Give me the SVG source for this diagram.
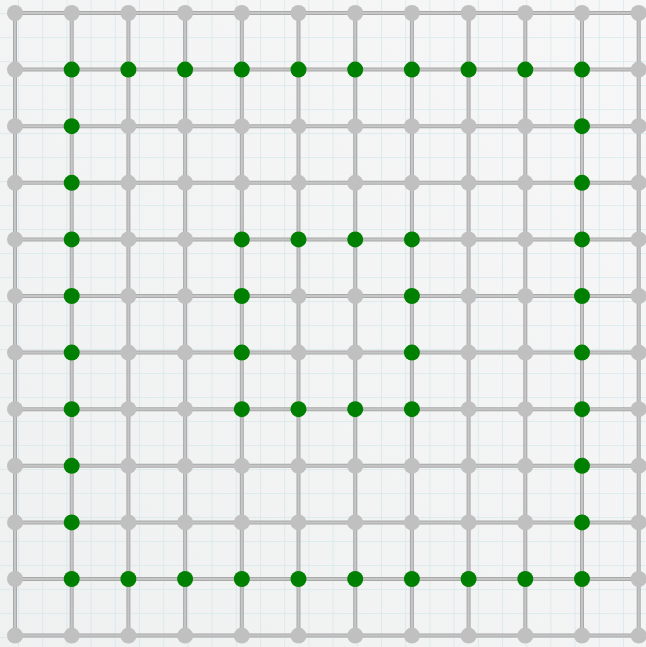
<svg xmlns="http://www.w3.org/2000/svg" width="646" height="647" viewBox="0 0 646 647">
<style>
.e{stroke:#a9a9a9;stroke-width:4;fill:none}
.ei{stroke:#c6c6c6;stroke-width:2;fill:none}
.g{fill:#c0c0c0}
.k{fill:#008000}
</style>
<defs>
<linearGradient id="bg" x1="0" y1="1" x2="1" y2="0">
<stop offset="0" stop-color="#eff0f0"/>
<stop offset="1" stop-color="#f7f7f7"/>
</linearGradient>
<pattern id="grid" x="18" y="13" width="24.2" height="24" patternUnits="userSpaceOnUse">
<path d="M0 0V24M0 0H24.2" stroke="#d2e6ed" stroke-width="1.6" fill="none"/>
</pattern>
</defs>
<rect width="646" height="647" fill="url(#bg)"/>
<rect width="646" height="647" fill="url(#grid)" opacity="0.85"/>
<g id="connectors">
<path class="e" d="M15 13H638.7M15 69.6H638.7M15 126.2H638.7M15 182.8H638.7M15 239.4H638.7M15 296H638.7M15 352.6H638.7M15 409.2H638.7M15 465.8H638.7M15 522.4H638.7M15 579H638.7M15 635.6H638.7M15 13V635.6M71.7 13V635.6M128.4 13V635.6M185.1 13V635.6M241.8 13V635.6M298.5 13V635.6M355.2 13V635.6M411.9 13V635.6M468.6 13V635.6M525.3 13V635.6M582 13V635.6M638.7 13V635.6"/>
<path class="ei" d="M15 13H638.7M15 69.6H638.7M15 126.2H638.7M15 182.8H638.7M15 239.4H638.7M15 296H638.7M15 352.6H638.7M15 409.2H638.7M15 465.8H638.7M15 522.4H638.7M15 579H638.7M15 635.6H638.7M15 13V635.6M71.7 13V635.6M128.4 13V635.6M185.1 13V635.6M241.8 13V635.6M298.5 13V635.6M355.2 13V635.6M411.9 13V635.6M468.6 13V635.6M525.3 13V635.6M582 13V635.6M638.7 13V635.6"/>
</g>
<g id="nodes">
<g id="n0_0"><circle class="g" cx="15" cy="13" r="8"/></g>
<g id="n0_1"><circle class="g" cx="71.7" cy="13" r="8"/></g>
<g id="n0_2"><circle class="g" cx="128.4" cy="13" r="8"/></g>
<g id="n0_3"><circle class="g" cx="185.1" cy="13" r="8"/></g>
<g id="n0_4"><circle class="g" cx="241.8" cy="13" r="8"/></g>
<g id="n0_5"><circle class="g" cx="298.5" cy="13" r="8"/></g>
<g id="n0_6"><circle class="g" cx="355.2" cy="13" r="8"/></g>
<g id="n0_7"><circle class="g" cx="411.9" cy="13" r="8"/></g>
<g id="n0_8"><circle class="g" cx="468.6" cy="13" r="8"/></g>
<g id="n0_9"><circle class="g" cx="525.3" cy="13" r="8"/></g>
<g id="n0_10"><circle class="g" cx="582" cy="13" r="8"/></g>
<g id="n0_11"><circle class="g" cx="638.7" cy="13" r="8"/></g>
<g id="n1_0"><circle class="g" cx="15" cy="69.6" r="8"/></g>
<g id="n1_1"><circle class="k" cx="71.7" cy="69.6" r="8"/></g>
<g id="n1_2"><circle class="k" cx="128.4" cy="69.6" r="8"/></g>
<g id="n1_3"><circle class="k" cx="185.1" cy="69.6" r="8"/></g>
<g id="n1_4"><circle class="k" cx="241.8" cy="69.6" r="8"/></g>
<g id="n1_5"><circle class="k" cx="298.5" cy="69.6" r="8"/></g>
<g id="n1_6"><circle class="k" cx="355.2" cy="69.6" r="8"/></g>
<g id="n1_7"><circle class="k" cx="411.9" cy="69.6" r="8"/></g>
<g id="n1_8"><circle class="k" cx="468.6" cy="69.6" r="8"/></g>
<g id="n1_9"><circle class="k" cx="525.3" cy="69.6" r="8"/></g>
<g id="n1_10"><circle class="k" cx="582" cy="69.6" r="8"/></g>
<g id="n1_11"><circle class="g" cx="638.7" cy="69.6" r="8"/></g>
<g id="n2_0"><circle class="g" cx="15" cy="126.2" r="8"/></g>
<g id="n2_1"><circle class="k" cx="71.7" cy="126.2" r="8"/></g>
<g id="n2_2"><circle class="g" cx="128.4" cy="126.2" r="8"/></g>
<g id="n2_3"><circle class="g" cx="185.1" cy="126.2" r="8"/></g>
<g id="n2_4"><circle class="g" cx="241.8" cy="126.2" r="8"/></g>
<g id="n2_5"><circle class="g" cx="298.5" cy="126.2" r="8"/></g>
<g id="n2_6"><circle class="g" cx="355.2" cy="126.2" r="8"/></g>
<g id="n2_7"><circle class="g" cx="411.9" cy="126.2" r="8"/></g>
<g id="n2_8"><circle class="g" cx="468.6" cy="126.2" r="8"/></g>
<g id="n2_9"><circle class="g" cx="525.3" cy="126.2" r="8"/></g>
<g id="n2_10"><circle class="k" cx="582" cy="126.2" r="8"/></g>
<g id="n2_11"><circle class="g" cx="638.7" cy="126.2" r="8"/></g>
<g id="n3_0"><circle class="g" cx="15" cy="182.8" r="8"/></g>
<g id="n3_1"><circle class="k" cx="71.7" cy="182.8" r="8"/></g>
<g id="n3_2"><circle class="g" cx="128.4" cy="182.8" r="8"/></g>
<g id="n3_3"><circle class="g" cx="185.1" cy="182.8" r="8"/></g>
<g id="n3_4"><circle class="g" cx="241.8" cy="182.8" r="8"/></g>
<g id="n3_5"><circle class="g" cx="298.5" cy="182.8" r="8"/></g>
<g id="n3_6"><circle class="g" cx="355.2" cy="182.8" r="8"/></g>
<g id="n3_7"><circle class="g" cx="411.9" cy="182.8" r="8"/></g>
<g id="n3_8"><circle class="g" cx="468.6" cy="182.8" r="8"/></g>
<g id="n3_9"><circle class="g" cx="525.3" cy="182.8" r="8"/></g>
<g id="n3_10"><circle class="k" cx="582" cy="182.8" r="8"/></g>
<g id="n3_11"><circle class="g" cx="638.7" cy="182.8" r="8"/></g>
<g id="n4_0"><circle class="g" cx="15" cy="239.4" r="8"/></g>
<g id="n4_1"><circle class="k" cx="71.7" cy="239.4" r="8"/></g>
<g id="n4_2"><circle class="g" cx="128.4" cy="239.4" r="8"/></g>
<g id="n4_3"><circle class="g" cx="185.1" cy="239.4" r="8"/></g>
<g id="n4_4"><circle class="k" cx="241.8" cy="239.4" r="8"/></g>
<g id="n4_5"><circle class="k" cx="298.5" cy="239.4" r="8"/></g>
<g id="n4_6"><circle class="k" cx="355.2" cy="239.4" r="8"/></g>
<g id="n4_7"><circle class="k" cx="411.9" cy="239.4" r="8"/></g>
<g id="n4_8"><circle class="g" cx="468.6" cy="239.4" r="8"/></g>
<g id="n4_9"><circle class="g" cx="525.3" cy="239.4" r="8"/></g>
<g id="n4_10"><circle class="k" cx="582" cy="239.4" r="8"/></g>
<g id="n4_11"><circle class="g" cx="638.7" cy="239.4" r="8"/></g>
<g id="n5_0"><circle class="g" cx="15" cy="296" r="8"/></g>
<g id="n5_1"><circle class="k" cx="71.7" cy="296" r="8"/></g>
<g id="n5_2"><circle class="g" cx="128.4" cy="296" r="8"/></g>
<g id="n5_3"><circle class="g" cx="185.1" cy="296" r="8"/></g>
<g id="n5_4"><circle class="k" cx="241.8" cy="296" r="8"/></g>
<g id="n5_5"><circle class="g" cx="298.5" cy="296" r="8"/></g>
<g id="n5_6"><circle class="g" cx="355.2" cy="296" r="8"/></g>
<g id="n5_7"><circle class="k" cx="411.9" cy="296" r="8"/></g>
<g id="n5_8"><circle class="g" cx="468.6" cy="296" r="8"/></g>
<g id="n5_9"><circle class="g" cx="525.3" cy="296" r="8"/></g>
<g id="n5_10"><circle class="k" cx="582" cy="296" r="8"/></g>
<g id="n5_11"><circle class="g" cx="638.7" cy="296" r="8"/></g>
<g id="n6_0"><circle class="g" cx="15" cy="352.6" r="8"/></g>
<g id="n6_1"><circle class="k" cx="71.7" cy="352.6" r="8"/></g>
<g id="n6_2"><circle class="g" cx="128.4" cy="352.6" r="8"/></g>
<g id="n6_3"><circle class="g" cx="185.1" cy="352.6" r="8"/></g>
<g id="n6_4"><circle class="k" cx="241.8" cy="352.6" r="8"/></g>
<g id="n6_5"><circle class="g" cx="298.5" cy="352.6" r="8"/></g>
<g id="n6_6"><circle class="g" cx="355.2" cy="352.6" r="8"/></g>
<g id="n6_7"><circle class="k" cx="411.9" cy="352.6" r="8"/></g>
<g id="n6_8"><circle class="g" cx="468.6" cy="352.6" r="8"/></g>
<g id="n6_9"><circle class="g" cx="525.3" cy="352.6" r="8"/></g>
<g id="n6_10"><circle class="k" cx="582" cy="352.6" r="8"/></g>
<g id="n6_11"><circle class="g" cx="638.7" cy="352.6" r="8"/></g>
<g id="n7_0"><circle class="g" cx="15" cy="409.2" r="8"/></g>
<g id="n7_1"><circle class="k" cx="71.7" cy="409.2" r="8"/></g>
<g id="n7_2"><circle class="g" cx="128.4" cy="409.2" r="8"/></g>
<g id="n7_3"><circle class="g" cx="185.1" cy="409.2" r="8"/></g>
<g id="n7_4"><circle class="k" cx="241.8" cy="409.2" r="8"/></g>
<g id="n7_5"><circle class="k" cx="298.5" cy="409.2" r="8"/></g>
<g id="n7_6"><circle class="k" cx="355.2" cy="409.2" r="8"/></g>
<g id="n7_7"><circle class="k" cx="411.9" cy="409.2" r="8"/></g>
<g id="n7_8"><circle class="g" cx="468.6" cy="409.2" r="8"/></g>
<g id="n7_9"><circle class="g" cx="525.3" cy="409.2" r="8"/></g>
<g id="n7_10"><circle class="k" cx="582" cy="409.2" r="8"/></g>
<g id="n7_11"><circle class="g" cx="638.7" cy="409.2" r="8"/></g>
<g id="n8_0"><circle class="g" cx="15" cy="465.8" r="8"/></g>
<g id="n8_1"><circle class="k" cx="71.7" cy="465.8" r="8"/></g>
<g id="n8_2"><circle class="g" cx="128.4" cy="465.8" r="8"/></g>
<g id="n8_3"><circle class="g" cx="185.1" cy="465.8" r="8"/></g>
<g id="n8_4"><circle class="g" cx="241.8" cy="465.8" r="8"/></g>
<g id="n8_5"><circle class="g" cx="298.5" cy="465.8" r="8"/></g>
<g id="n8_6"><circle class="g" cx="355.2" cy="465.8" r="8"/></g>
<g id="n8_7"><circle class="g" cx="411.9" cy="465.8" r="8"/></g>
<g id="n8_8"><circle class="g" cx="468.6" cy="465.8" r="8"/></g>
<g id="n8_9"><circle class="g" cx="525.3" cy="465.8" r="8"/></g>
<g id="n8_10"><circle class="k" cx="582" cy="465.8" r="8"/></g>
<g id="n8_11"><circle class="g" cx="638.7" cy="465.8" r="8"/></g>
<g id="n9_0"><circle class="g" cx="15" cy="522.4" r="8"/></g>
<g id="n9_1"><circle class="k" cx="71.7" cy="522.4" r="8"/></g>
<g id="n9_2"><circle class="g" cx="128.4" cy="522.4" r="8"/></g>
<g id="n9_3"><circle class="g" cx="185.1" cy="522.4" r="8"/></g>
<g id="n9_4"><circle class="g" cx="241.8" cy="522.4" r="8"/></g>
<g id="n9_5"><circle class="g" cx="298.5" cy="522.4" r="8"/></g>
<g id="n9_6"><circle class="g" cx="355.2" cy="522.4" r="8"/></g>
<g id="n9_7"><circle class="g" cx="411.9" cy="522.4" r="8"/></g>
<g id="n9_8"><circle class="g" cx="468.6" cy="522.4" r="8"/></g>
<g id="n9_9"><circle class="g" cx="525.3" cy="522.4" r="8"/></g>
<g id="n9_10"><circle class="k" cx="582" cy="522.4" r="8"/></g>
<g id="n9_11"><circle class="g" cx="638.7" cy="522.4" r="8"/></g>
<g id="n10_0"><circle class="g" cx="15" cy="579" r="8"/></g>
<g id="n10_1"><circle class="k" cx="71.7" cy="579" r="8"/></g>
<g id="n10_2"><circle class="k" cx="128.4" cy="579" r="8"/></g>
<g id="n10_3"><circle class="k" cx="185.1" cy="579" r="8"/></g>
<g id="n10_4"><circle class="k" cx="241.8" cy="579" r="8"/></g>
<g id="n10_5"><circle class="k" cx="298.5" cy="579" r="8"/></g>
<g id="n10_6"><circle class="k" cx="355.2" cy="579" r="8"/></g>
<g id="n10_7"><circle class="k" cx="411.9" cy="579" r="8"/></g>
<g id="n10_8"><circle class="k" cx="468.6" cy="579" r="8"/></g>
<g id="n10_9"><circle class="k" cx="525.3" cy="579" r="8"/></g>
<g id="n10_10"><circle class="k" cx="582" cy="579" r="8"/></g>
<g id="n10_11"><circle class="g" cx="638.7" cy="579" r="8"/></g>
<g id="n11_0"><circle class="g" cx="15" cy="635.6" r="8"/></g>
<g id="n11_1"><circle class="g" cx="71.7" cy="635.6" r="8"/></g>
<g id="n11_2"><circle class="g" cx="128.4" cy="635.6" r="8"/></g>
<g id="n11_3"><circle class="g" cx="185.1" cy="635.6" r="8"/></g>
<g id="n11_4"><circle class="g" cx="241.8" cy="635.6" r="8"/></g>
<g id="n11_5"><circle class="g" cx="298.5" cy="635.6" r="8"/></g>
<g id="n11_6"><circle class="g" cx="355.2" cy="635.6" r="8"/></g>
<g id="n11_7"><circle class="g" cx="411.9" cy="635.6" r="8"/></g>
<g id="n11_8"><circle class="g" cx="468.6" cy="635.6" r="8"/></g>
<g id="n11_9"><circle class="g" cx="525.3" cy="635.6" r="8"/></g>
<g id="n11_10"><circle class="g" cx="582" cy="635.6" r="8"/></g>
<g id="n11_11"><circle class="g" cx="638.7" cy="635.6" r="8"/></g>
</g>
</svg>
